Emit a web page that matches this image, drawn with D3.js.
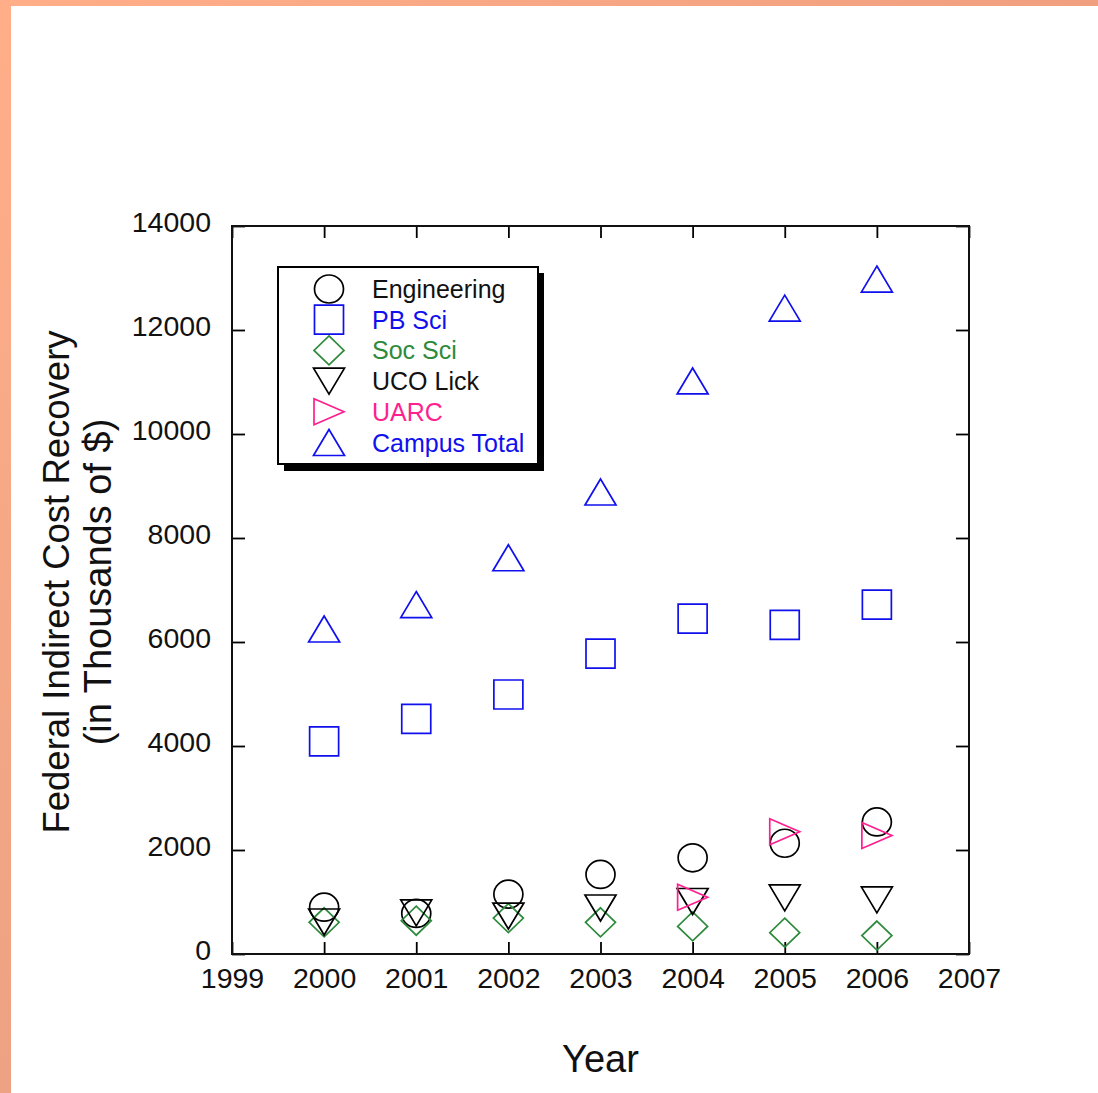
<!DOCTYPE html>
<html>
<head>
<meta charset="utf-8">
<script src="https://cdn.jsdelivr.net/npm/d3@7"></script>
<style>
html,body{margin:0;padding:0;background:#fff;}
svg{display:block;}
text{font-family:"Liberation Sans",Arial,Helvetica,sans-serif;}
</style>
</head>
<body>
<svg id="chart" width="1098" height="1093"></svg>
<script>
// ---- data ----
const years = [2000, 2001, 2002, 2003, 2004, 2005, 2006];
const engineering = [900, 780, 1150, 1530, 1850, 2130, 2540];
const pbSci = [4090, 4520, 4990, 5775, 6450, 6330, 6720];
const socSci = [610, 640, 690, 610, 530, 410, 355];
const ucoLick = [615, 790, 730, 885, 1010, 1080, 1040];
const uarcYears = [2004, 2005, 2006];
const uarc = [1090, 2350, 2280];
const campusTotal = [6250, 6720, 7620, 8885, 11020, 12420, 12980];
const xTicks = [1999, 2000, 2001, 2002, 2003, 2004, 2005, 2006, 2007];
const yTicks = [0, 2000, 4000, 6000, 8000, 10000, 12000, 14000];
const seriesNames = ["Engineering", "PB Sci", "Soc Sci", "UCO Lick", "UARC", "Campus Total"];

(function () {
const colors = {
  "Engineering": "#000000",
  "PB Sci": "#1010ee",
  "Soc Sci": "#2e8a3c",
  "UCO Lick": "#000000",
  "UARC": "#ff1f8e",
  "Campus Total": "#1010ee"
};
const shapes = {
  "Engineering": "circle",
  "PB Sci": "square",
  "Soc Sci": "diamond",
  "UCO Lick": "down",
  "UARC": "right",
  "Campus Total": "up"
};
const series = [
  {name: "Campus Total", xs: years, ys: campusTotal},
  {name: "PB Sci", xs: years, ys: pbSci},
  {name: "Engineering", xs: years, ys: engineering},
  {name: "Soc Sci", xs: years, ys: socSci},
  {name: "UCO Lick", xs: years, ys: ucoLick},
  {name: "UARC", xs: uarcYears, ys: uarc}
];

// ---- layout ----
const svg = d3.select("#chart");
const W = 1098, H = 1093;
const mLeft = 232, mRight = 969, mTop = 226, mBottom = 954;

const x = d3.scaleLinear().domain([1999, 2007]).range([mLeft, mRight]);
const y = d3.scaleLinear().domain([0, 14000]).range([mBottom, mTop]);

// background frame (salmon border at top and left)
const defs = svg.append("defs");
const gTop = defs.append("linearGradient").attr("id", "gTop").attr("x1", 0).attr("x2", 1).attr("y1", 0).attr("y2", 0);
gTop.append("stop").attr("offset", 0).attr("stop-color", "#ffae88");
gTop.append("stop").attr("offset", 1).attr("stop-color", "#f0a07f");
const gLeft = defs.append("linearGradient").attr("id", "gLeft").attr("x1", 0).attr("x2", 0).attr("y1", 0).attr("y2", 1);
gLeft.append("stop").attr("offset", 0).attr("stop-color", "#ffae88");
gLeft.append("stop").attr("offset", 1).attr("stop-color", "#eda283");
svg.append("rect").attr("x", 0).attr("y", 0).attr("width", W).attr("height", 6).attr("fill", "url(#gTop)");
svg.append("rect").attr("x", 0).attr("y", 0).attr("width", 11).attr("height", H).attr("fill", "url(#gLeft)");

// marker path generator (bbox centred)
function markerPath(shape, cx, cy) {
  const p = d3.path();
  if (shape === "square") {
    p.rect(cx - 14.5, cy - 14.5, 29, 29);
  } else if (shape === "diamond") {
    p.moveTo(cx, cy - 14.5); p.lineTo(cx + 15, cy); p.lineTo(cx, cy + 14.5); p.lineTo(cx - 15, cy); p.closePath();
  } else if (shape === "up") {
    p.moveTo(cx, cy - 13); p.lineTo(cx + 15.5, cy + 13); p.lineTo(cx - 15.5, cy + 13); p.closePath();
  } else if (shape === "down") {
    p.moveTo(cx - 15.5, cy - 13); p.lineTo(cx + 15.5, cy - 13); p.lineTo(cx, cy + 13); p.closePath();
  } else if (shape === "right") {
    p.moveTo(cx - 15, cy - 13); p.lineTo(cx + 15, cy); p.lineTo(cx - 15, cy + 13); p.closePath();
  }
  return p.toString();
}
function drawMarker(g, shape, cx, cy, color) {
  if (shape === "circle") {
    g.append("ellipse").attr("cx", cx).attr("cy", cy).attr("rx", 14.5).attr("ry", 14)
      .attr("fill", "none").attr("stroke", color).attr("stroke-width", 1.7);
  } else {
    g.append("path").attr("d", markerPath(shape, cx, cy))
      .attr("fill", "none").attr("stroke", color).attr("stroke-width", 1.7);
  }
}

// axes (inward ticks on all four sides)
const axB = svg.append("g").attr("transform", `translate(0,${mBottom})`)
  .call(d3.axisBottom(x).tickValues(xTicks).tickFormat(d3.format("d")).tickSize(-12).tickPadding(14));
const axT = svg.append("g").attr("transform", `translate(0,${mTop})`)
  .call(d3.axisTop(x).tickValues(xTicks).tickFormat("").tickSize(-12));
const axL = svg.append("g").attr("transform", `translate(${mLeft},0)`)
  .call(d3.axisLeft(y).tickValues(yTicks).tickFormat(d3.format("d")).tickSize(-13).tickPadding(21));
const axR = svg.append("g").attr("transform", `translate(${mRight},0)`)
  .call(d3.axisRight(y).tickValues(yTicks).tickFormat("").tickSize(-13));
[axB, axT, axL, axR].forEach(a => {
  a.select(".domain").remove();
  a.selectAll(".tick line").attr("stroke", "#000").attr("stroke-width", 1.8);
  a.selectAll(".tick text").attr("fill", "#111").attr("font-size", 28.5)
    .attr("font-family", "'Liberation Sans', Arial, sans-serif");
});
axL.selectAll(".tick text").attr("dy", "0.18em");

// frame
svg.append("rect").attr("x", mLeft).attr("y", mTop).attr("width", mRight - mLeft).attr("height", mBottom - mTop)
  .attr("fill", "none").attr("stroke", "#111").attr("stroke-width", 2);

// data markers
const gm = svg.append("g");
series.forEach(s => {
  s.xs.forEach((yr, i) => {
    drawMarker(gm, shapes[s.name], x(yr), y(s.ys[i]), colors[s.name]);
  });
});

// legend
const lg = svg.append("g");
lg.append("rect").attr("x", 284).attr("y", 273).attr("width", 260).attr("height", 198).attr("fill", "#000");
lg.append("rect").attr("x", 278).attr("y", 267).attr("width", 260).attr("height", 197)
  .attr("fill", "#fff").attr("stroke", "#000").attr("stroke-width", 2);
seriesNames.forEach((name, i) => {
  const cy = 289 + i * 30.7;
  drawMarker(lg, shapes[name], 329, cy, colors[name]);
  lg.append("text").attr("x", 372).attr("y", cy).attr("dy", "0.36em")
    .attr("font-size", 25).attr("fill", colors[name] === "#000000" ? "#111" : colors[name]).text(name);
});

// axis titles
svg.append("text").attr("x", (mLeft + mRight) / 2).attr("y", 1072).attr("text-anchor", "middle")
  .attr("font-size", 38).attr("fill", "#111").text("Year");
svg.append("text").attr("transform", "translate(69,582) rotate(-90)").attr("text-anchor", "middle")
  .attr("font-size", 36.5).attr("fill", "#111").text("Federal Indirect Cost Recovery");
svg.append("text").attr("transform", "translate(111,582) rotate(-90)").attr("text-anchor", "middle")
  .attr("font-size", 38).attr("fill", "#111").text("(in Thousands of $)");
})();
</script>
</body>
</html>
